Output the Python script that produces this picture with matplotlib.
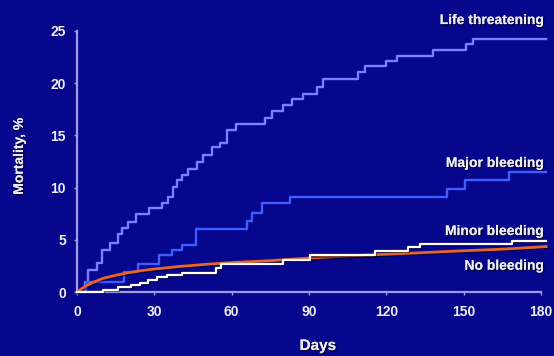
import matplotlib
matplotlib.use("Agg")
import matplotlib.pyplot as plt
import matplotlib.patheffects as pe

# Cumulative mortality (%) by bleeding category, step data (days, %)
life_days = [0, 3.1, 4.4, 7.6, 9.8, 12.8, 16, 17.3, 19.9, 23, 28, 32.8, 35.4, 37.4,
             38.7, 40.6, 43.2, 46.4, 49, 52.2, 55.5, 58, 61.5, 73, 75.5, 80, 83.5,
             87.8, 93, 95.5, 109, 111.7, 120, 124.3, 138.2, 151, 153.7, 182]
life_vals = [0, 1.0, 2.1, 2.75, 4.0, 4.7, 5.6, 6.1, 6.7, 7.5, 8.0, 8.5, 9.1, 10.1,
             10.7, 11.2, 11.8, 12.5, 13.1, 13.9, 14.3, 15.5, 16.1, 16.7, 17.3, 17.9,
             18.5, 19.0, 19.6, 20.4, 21.1, 21.6, 22.1, 22.6, 23.2, 23.8, 24.2, 24.2]

major_days = [0, 3.5, 18.1, 23.5, 32, 36.7, 40.6, 46, 65.8, 67.8, 71.6, 82.6,
              143.4, 150.5, 167.5, 182]
major_vals = [0, 1.0, 1.9, 2.7, 3.5, 4.0, 4.5, 6.0, 6.8, 7.6, 8.5, 9.1,
              9.9, 10.7, 11.5, 11.5]

minor_days = [0, 10, 16, 21, 24.4, 27.7, 30.9, 35, 40.6, 54, 56, 80, 90.4,
              115.6, 128.5, 133, 168.6, 182]
minor_vals = [0, 0.2, 0.45, 0.67, 0.9, 1.15, 1.47, 1.6, 1.8, 2.3, 2.65, 3.05, 3.5,
              3.9, 4.3, 4.6, 4.9, 4.9]

none_days = [0, 2, 4, 6, 8, 10, 15, 20, 25, 30, 40, 50, 60, 75, 90, 105, 120,
             135, 150, 165, 182]
none_vals = [0, 0.35, 0.65, 0.9, 1.1, 1.3, 1.6, 1.85, 2.05, 2.2, 2.45, 2.65, 2.82,
             3.0, 3.25, 3.45, 3.62, 3.78, 3.95, 4.1, 4.35]

x_ticks = [0, 30, 60, 90, 120, 150, 180]
y_ticks = [0, 5, 10, 15, 20, 25]

BG = "#07078d"
AXIS = "#9d9de6"
TXT = "#ececf4"

plt.rcParams["font.family"] = ["Liberation Sans", "DejaVu Sans"]
plt.rcParams["font.weight"] = "bold"

fig = plt.figure(figsize=(5.54, 3.56), dpi=100, facecolor=BG)
ax = fig.add_axes([77 / 554, 64 / 356, 464 / 554, 261 / 356], facecolor=BG)

shadow = [pe.SimpleLineShadow(offset=(0.8, -0.8), shadow_color="black", alpha=0.5), pe.Normal()]

ax.step(life_days, life_vals, where="post", color="#7d7dff", lw=1.7, clip_on=False, zorder=3)
ax.step(major_days, major_vals, where="post", color="#3f5cff", lw=1.7, clip_on=False, zorder=3)
ax.plot(none_days, none_vals, color="#e8642a", lw=2.0, clip_on=False, zorder=4,
        path_effects=shadow)
ax.step(minor_days, minor_vals, where="post", color="#ffffff", lw=1.6, clip_on=False, zorder=5,
        path_effects=shadow)

ax.set_xlim(0, 180)
ax.set_ylim(0, 25)
ax.set_xticks(x_ticks)
ax.set_yticks(y_ticks)

for side in ("top", "right"):
    ax.spines[side].set_visible(False)
for side in ("left", "bottom"):
    ax.spines[side].set_color(AXIS)
    ax.spines[side].set_linewidth(1.6)

ax.tick_params(axis="both", colors=AXIS, labelcolor=TXT, labelsize=10, length=2, width=1)
ax.tick_params(axis="x", pad=7)
ax.tick_params(axis="y", pad=6)
for lab in ax.get_xticklabels() + ax.get_yticklabels():
    lab.set_fontweight("bold")

txt_fx = [pe.withSimplePatchShadow(offset=(1, -1), shadow_rgbFace="black", alpha=0.6), pe.Normal()]

ax.set_ylabel("Mortality, %", color=TXT, fontsize=10, fontweight="bold", path_effects=txt_fx)
ax.yaxis.set_label_coords(-0.11, 0.52)
ax.set_xlabel("Days", color=TXT, fontsize=11, fontweight="bold", path_effects=txt_fx)
ax.xaxis.set_label_coords(0.519, -0.18)

labels = [
    ("Life threatening", 26.05),
    ("Major bleeding", 12.36),
    ("Minor bleeding", 5.84),
    ("No bleeding", 2.52),
]
for text, yv in labels:
    ax.text(181.2, yv, text, ha="right", va="center", color=TXT, fontsize=10,
            fontweight="bold", clip_on=False, path_effects=txt_fx, zorder=6)

fig.savefig("out.png", dpi=100, facecolor=BG)
